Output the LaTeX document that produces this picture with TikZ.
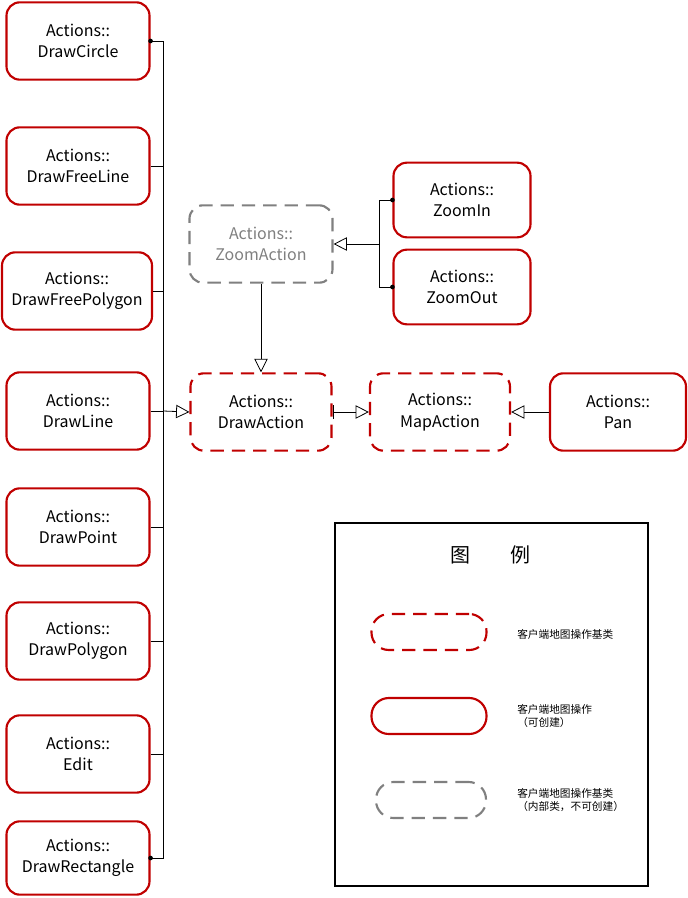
\documentclass[tikz,border=0pt]{standalone}
\usepackage{fontspec}
\setmainfont{Noto Sans CJK SC}
\usetikzlibrary{arrows.meta,positioning}
\definecolor{boxred}{RGB}{192,0,0}
\definecolor{boxgray}{RGB}{128,128,128}
\tikzset{
  act/.style={rounded corners=10pt,draw=boxred,line width=1.6pt,fill=white,minimum width=#1*0.75pt,minimum height=58pt,align=center,font=\fontsize{12}{16}\selectfont,inner sep=0pt},
  act/.default=143,
  base/.style={act=#1,dash pattern=on 10pt off 6pt},
  base/.default=141,
  inner/.style={act=#1,draw=boxgray,text=boxgray,dash pattern=on 10pt off 6pt},
  inner/.default=143,
  lnk/.style={draw,line width=0.6pt},
  inh/.style={lnk,-{Triangle[open,length=10pt,width=10pt]}},
  dot/.style={circle,fill,inner sep=0pt,minimum size=3.5pt},
  note/.style={font=\fontsize{8}{10}\selectfont,align=left,anchor=west,inner sep=0pt}
}
\begin{document}
\begin{tikzpicture}[x=0.75pt,y=-0.75pt]
\useasboundingbox (0,0) rectangle (687,898);
% left column
\node [act] (circle) at (78,41) {Actions::\\DrawCircle};
\node [act] (freeline) at (78,166) {Actions::\\DrawFreeLine};
\node [act=150] (freepoly) at (77,291) {Actions::\\DrawFreePolygon};
\node [act] (line) at (78,411) {Actions::\\DrawLine};
\node [act] (point) at (78,527) {Actions::\\DrawPoint};
\node [act] (polygon) at (78,641) {Actions::\\DrawPolygon};
\node [act] (edit) at (78,754) {Actions::\\Edit};
\node [act,minimum height=55pt] (rect) at (78,858) {Actions::\\DrawRectangle};
% base classes
\node [inner] (zoomact) at (261,244) {Actions::\\ZoomAction};
\node [base] (drawact) at (261,412) {Actions::\\DrawAction};
\node [base=140] (mapact) at (440,412) {Actions::\\MapAction};
\node [act=137,minimum height=56pt] (zoomin) at (462,200) {Actions::\\ZoomIn};
\node [act=137,minimum height=56pt] (zoomout) at (462,287) {Actions::\\ZoomOut};
\node [act=136] (pan) at (618,412) {Actions::\\Pan};
% bus lines
\coordinate (busl) at (163,411);
\coordinate (busz) at (379,244);
\draw [lnk] (circle.east) -| (rect.east -| busl) -- (rect.east);
\foreach \n in {freeline,freepoly,line,point,polygon,edit}
  \draw [lnk] (\n.east) -- (\n.east -| busl);
\node [dot] at (circle.east) {};
\node [dot] at (rect.east) {};
\draw [inh] (busl) -- (drawact.west);
\draw [lnk] (zoomin.west) -| (zoomout.west -| busz) -- (zoomout.west);
\node [dot] at (zoomin.west) {};
\node [dot] at (zoomout.west) {};
\draw [inh] (busz) -- (zoomact.east);
\draw [inh] (zoomact.south) -- (drawact.north);
\draw [lnk,{Bar[width=10pt]}-{Triangle[open,length=10pt,width=10pt]}] (drawact.east) -- (mapact.west);
\draw [inh] (pan.west) -- (mapact.east);
% legend
\node [draw,line width=0.8pt,minimum width=313*0.75pt,minimum height=363*0.75pt,inner sep=0pt] (legend) at (491.5,704.5) {};
\node [font=\fontsize{15}{18}\selectfont] (title) at (490,555) {图\hspace{2em}例};
\node [base=115,minimum height=27pt,rounded corners=13pt] (lg1) at (429,632) {};
\node [act=115,minimum height=27pt,rounded corners=13pt] (lg2) at (429,716) {};
\node [inner=110,minimum height=27pt,rounded corners=13pt] (lg3) at (431,800) {};
\node [note] (t1) at (517,634) {客户端地图操作基类};
\node [note] (t2) at (517,716) {客户端地图操作\\（可创建）};
\node [note] (t3) at (517,800) {客户端地图操作基类\\（内部类，不可创建）};
\end{tikzpicture}
\end{document}
